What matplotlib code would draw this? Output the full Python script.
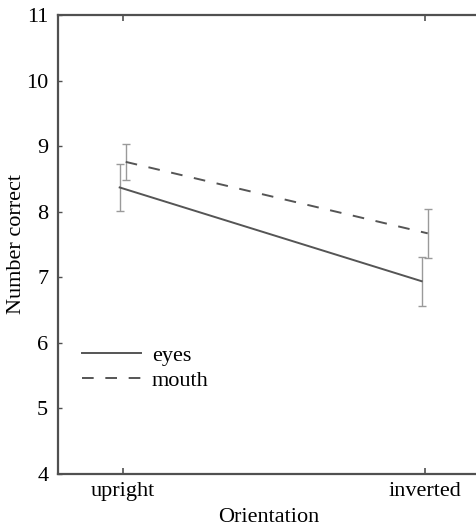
import matplotlib
matplotlib.use("Agg")
import matplotlib.pyplot as plt

# Mean number correct (with error bars) by face orientation and feature
orientations = ["upright", "inverted"]
eyes_mean = [8.37, 6.94]
eyes_err = [0.36, 0.375]
mouth_mean = [8.76, 7.67]
mouth_err = [0.275, 0.375]
y_ticks = [4, 5, 6, 7, 8, 9, 10, 11]

plt.rcParams["font.family"] = ["Liberation Serif", "DejaVu Serif"]
plt.rcParams["lines.scale_dashes"] = False

FS = 16

fig = plt.figure(figsize=(4.76, 5.28), dpi=100)
ax = fig.add_axes([58 / 476, 54 / 528, (480 - 58) / 476, (513 - 54) / 528])

x = list(range(len(orientations)))
off = 0.01
x_eyes = [v - off for v in x]
x_mouth = [v + off for v in x]

line_col = "#555555"
err_col = "#9a9a9a"

ax.errorbar(x_eyes, eyes_mean, yerr=eyes_err, fmt="none", ecolor=err_col,
            elinewidth=1.0, capsize=3, capthick=1.0, zorder=2)
ax.errorbar(x_mouth, mouth_mean, yerr=mouth_err, fmt="none", ecolor=err_col,
            elinewidth=1.0, capsize=3, capthick=1.0, zorder=2)
ax.plot(x_eyes, eyes_mean, color=line_col, lw=1.4, label="eyes", zorder=3)
ax.plot(x_mouth, mouth_mean, color=line_col, lw=1.4,
        linestyle=(0, (8.4, 8.4)), label="mouth", zorder=3)

ax.set_xlim(-64.7 / 302, 1 + 55.3 / 302)
ax.set_ylim(4, 11)
ax.set_xticks(x)
ax.set_xticklabels(orientations)
ax.set_yticks(y_ticks)

for s in ax.spines.values():
    s.set_color("#505050")
    s.set_linewidth(1.6)

ax.tick_params(direction="in", length=4, width=1.2, color="#505050",
               top=True, right=True, labelsize=FS, pad=7)
ax.tick_params(axis="y", right=True, length=3, width=1.0)
ax.tick_params(axis="y", left=True)
ax.tick_params(axis="x", pad=6)

ax.set_xlabel("Orientation", fontsize=FS, labelpad=5)
ax.set_ylabel("Number correct", fontsize=FS, labelpad=0)

ax.legend(loc="upper left", bbox_to_anchor=(0.035, 0.3005), frameon=False,
          fontsize=FS, handlelength=2.65, handletextpad=0.5,
          labelspacing=0.2, borderaxespad=0)

fig.savefig("out.png", dpi=100)
